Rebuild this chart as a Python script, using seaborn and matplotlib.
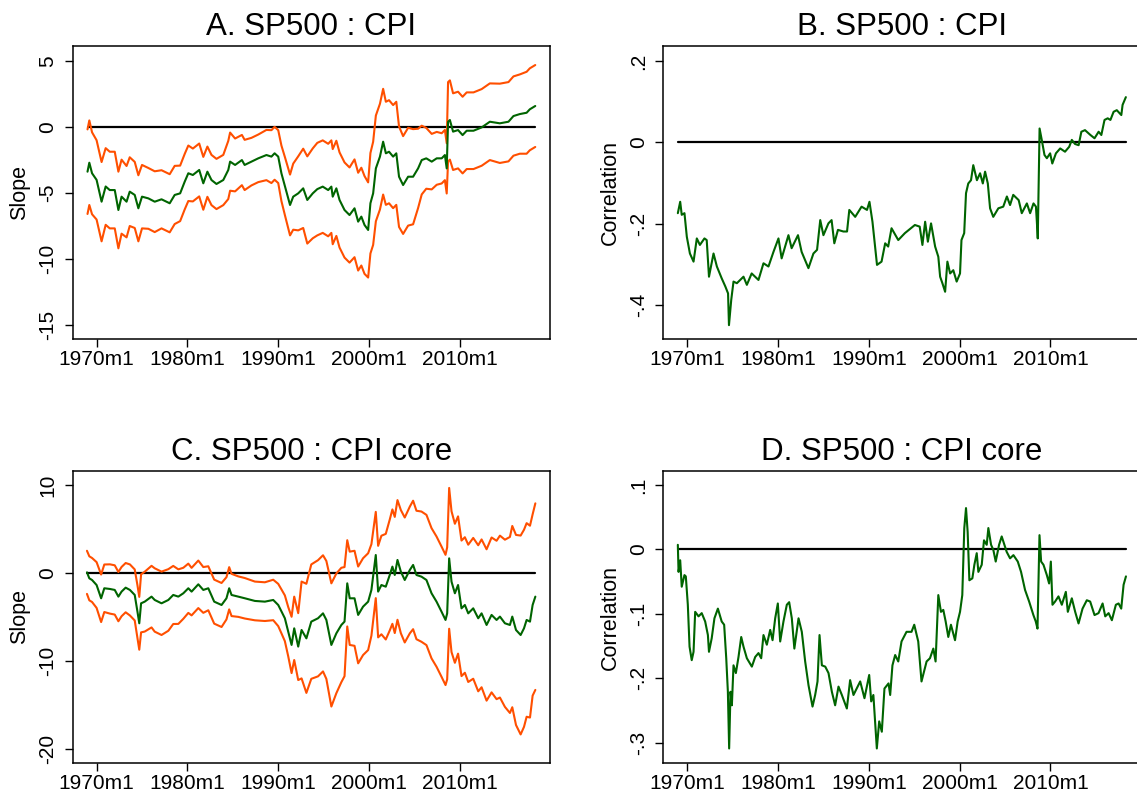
import matplotlib
matplotlib.use("Agg")
import matplotlib.pyplot as plt
import seaborn as sns
import numpy as np
import pandas as pd

# ---------------- data (decimal years) ----------------
A_dates = [1969.0, 1969.2, 1969.5, 1970.0, 1970.55, 1971.0, 1971.45, 1972.0, 1972.4, 1972.75,
           1973.3, 1973.65, 1974.2, 1974.6, 1975.0, 1975.7, 1976.4, 1977.15, 1978.05, 1978.6,
           1979.2, 1979.7, 1980.1, 1980.6, 1981.3, 1981.75, 1982.2, 1982.65, 1983.2, 1983.95,
           1984.5, 1984.7, 1985.25, 1986.0, 1986.3, 1987.05, 1987.8, 1988.7, 1989.25, 1989.6,
           1990.0, 1990.35, 1990.75, 1991.3, 1991.65, 1992.2, 1992.75, 1993.2, 1993.8, 1994.3,
           1994.9, 1995.5, 1995.85, 1996.0, 1996.4, 1996.75, 1997.3, 1997.85, 1998.4, 1998.8,
           1999.15, 1999.5, 1999.9, 2000.15, 2000.45, 2000.75, 2001.2, 2001.55, 2001.85, 2002.2,
           2002.65, 2003.0, 2003.3, 2003.75, 2004.3, 2004.85, 2005.4, 2005.8, 2006.3, 2006.9,
           2007.45, 2008.0, 2008.35, 2008.55, 2008.7, 2008.9, 2009.25, 2009.8, 2010.3, 2010.75,
           2011.5, 2012.4, 2013.3, 2014.4, 2015.35, 2015.9, 2016.6, 2017.35, 2017.7, 2018.3]
A_slope = [-3.38, -2.70, -3.50, -4.00, -5.65, -4.50, -4.77, -4.77, -6.28, -5.27,
           -5.65, -4.89, -5.14, -6.15, -5.27, -5.40, -5.65, -5.47, -5.77, -5.14,
           -5.02, -4.14, -3.50, -3.63, -3.25, -4.26, -3.38, -4.01, -4.31, -4.01,
           -3.25, -2.62, -2.87, -2.50, -2.87, -2.62, -2.37, -2.12, -2.24, -1.99,
           -2.24, -3.50, -4.51, -5.90, -5.27, -5.02, -4.64, -5.52, -5.02, -4.70,
           -4.51, -4.77, -4.51, -5.27, -4.64, -5.52, -6.28, -6.66, -6.15, -7.16,
           -6.78, -7.41, -7.79, -5.77, -5.02, -3.13, -2.24, -1.11, -1.99, -1.87,
           -2.24, -1.99, -3.76, -4.39, -3.76, -3.76, -3.13, -2.50, -2.37, -2.62,
           -2.37, -2.37, -2.12, -3.13, 0.40, 0.53, -0.35, -0.23, -0.61, -0.28,
           -0.28, -0.03, 0.40, 0.28, 0.40, 0.83, 0.98, 1.08, 1.34, 1.59]
A_halfwidth = [3.2, 3.2, 3.1, 3.0, 3.0, 2.9, 2.9, 2.9, 2.9, 2.8,
               2.7, 2.6, 2.5, 2.5, 2.4, 2.3, 2.3, 2.2, 2.2, 2.2,
               2.1, 2.1, 2.1, 2.0, 2.0, 2.0, 1.9, 1.9, 1.9, 1.9,
               2.2, 2.2, 2.0, 1.9, 1.9, 1.8, 1.8, 1.9, 2.0, 2.0,
               2.0, 2.1, 2.2, 2.3, 2.5, 2.8, 3.0, 3.3, 3.4, 3.5,
               3.5, 3.5, 3.5, 3.6, 3.6, 3.6, 3.6, 3.6, 3.7, 3.7,
               3.7, 3.7, 3.6, 3.8, 3.9, 4.0, 4.0, 4.0, 3.9, 3.9,
               3.9, 3.9, 3.8, 3.7, 3.7, 3.6, 3.0, 2.6, 2.3, 2.1,
               2.0, 1.9, 1.9, 1.9, 3.0, 3.0, 2.9, 2.9, 2.9, 2.9,
               2.9, 2.9, 2.9, 3.0, 3.0, 3.0, 3.0, 3.1, 3.1, 3.1]

B_dates = [1968.97, 1969.23, 1969.4, 1969.7, 1969.96, 1970.3, 1970.7, 1971.06, 1971.4, 1971.9,
           1972.15, 1972.4, 1972.9, 1973.27, 1973.8, 1974.2, 1974.5, 1974.6, 1974.85, 1975.1,
           1975.47, 1976.2, 1976.57, 1977.1, 1977.85, 1978.4, 1978.95, 1979.5, 1980.05, 1980.4,
           1981.15, 1981.5, 1982.2, 1982.6, 1983.35, 1983.9, 1984.3, 1984.65, 1985.0, 1985.55,
           1985.9, 1986.2, 1986.6, 1987.2, 1987.6, 1987.85, 1988.5, 1989.2, 1989.8, 1990.07,
           1990.4, 1990.9, 1991.4, 1991.8, 1992.13, 1992.5, 1993.24, 1993.97, 1995.07, 1995.6,
           1995.9, 1996.2, 1996.5, 1996.85, 1997.3, 1997.65, 1997.85, 1998.1, 1998.4, 1998.65,
           1998.95, 1999.3, 1999.67, 2000.04, 2000.2, 2000.5, 2000.7, 2000.95, 2001.25, 2001.5,
           2001.9, 2002.25, 2002.55, 2002.8, 2003.1, 2003.35, 2003.7, 2004.26, 2004.8, 2005.2,
           2005.55, 2005.9, 2006.5, 2006.84, 2007.4, 2007.76, 2008.13, 2008.4, 2008.5, 2008.6,
           2008.8, 2009.04, 2009.34, 2009.6, 2009.96, 2010.2, 2010.6, 2011.07, 2011.6, 2012.06,
           2012.35, 2012.7, 2013.1, 2013.4, 2013.8, 2014.4, 2014.85, 2015.3, 2015.6, 2015.95,
           2016.3, 2016.6, 2016.95, 2017.3, 2017.8, 2017.94, 2018.3]
B_corr = [-0.174, -0.146, -0.178, -0.174, -0.232, -0.273, -0.293, -0.236, -0.252, -0.236,
          -0.240, -0.330, -0.273, -0.305, -0.334, -0.354, -0.371, -0.449, -0.387, -0.342,
          -0.346, -0.330, -0.350, -0.322, -0.338, -0.297, -0.305, -0.269, -0.236, -0.285,
          -0.228, -0.260, -0.228, -0.269, -0.309, -0.273, -0.264, -0.191, -0.228, -0.199,
          -0.191, -0.248, -0.215, -0.219, -0.219, -0.166, -0.183, -0.158, -0.166, -0.146,
          -0.195, -0.301, -0.293, -0.248, -0.256, -0.211, -0.240, -0.223, -0.203, -0.207,
          -0.252, -0.195, -0.244, -0.199, -0.256, -0.281, -0.330, -0.346, -0.367, -0.293,
          -0.322, -0.314, -0.342, -0.322, -0.240, -0.223, -0.125, -0.101, -0.093, -0.056,
          -0.093, -0.076, -0.101, -0.072, -0.101, -0.162, -0.183, -0.162, -0.158, -0.133,
          -0.154, -0.129, -0.142, -0.174, -0.150, -0.174, -0.150, -0.158, -0.195, -0.236,
          0.034, 0.006, -0.031, -0.039, -0.027, -0.052, -0.027, -0.015, -0.023, -0.011,
          0.006, -0.004, -0.007, 0.026, 0.030, 0.018, 0.010, 0.026, 0.018, 0.055,
          0.059, 0.055, 0.075, 0.079, 0.067, 0.092, 0.111]

C_dates = [1968.94, 1969.2, 1969.5, 1970.0, 1970.5, 1970.85, 1971.47, 1972.0, 1972.4, 1972.75,
           1973.2, 1973.67, 1974.2, 1974.5, 1974.7, 1974.9, 1975.3, 1976.05, 1976.4, 1977.15,
           1977.9, 1978.44, 1979.0, 1979.55, 1980.1, 1980.46, 1981.2, 1981.75, 1982.3, 1982.95,
           1983.76, 1984.3, 1984.6, 1984.86, 1985.6, 1986.33, 1987.43, 1988.53, 1989.45, 1990.0,
           1990.37, 1990.73, 1991.1, 1991.47, 1991.76, 1992.2, 1992.57, 1993.1, 1993.64, 1994.38,
           1994.93, 1995.3, 1995.85, 1996.4, 1996.95, 1997.3, 1997.6, 1997.87, 1998.4, 1998.8,
           1999.34, 1999.9, 2000.26, 2000.74, 2001.0, 2001.36, 2001.84, 2002.28, 2002.57, 2002.83,
           2003.13, 2003.5, 2003.93, 2004.49, 2004.85, 2005.22, 2005.77, 2006.32, 2006.88, 2007.43,
           2007.98, 2008.42, 2008.6, 2008.82, 2009.08, 2009.45, 2009.8, 2010.18, 2010.55, 2010.92,
           2011.47, 2012.02, 2012.39, 2012.94, 2013.49, 2014.04, 2014.41, 2014.96, 2015.51, 2015.77,
           2016.18, 2016.69, 2017.06, 2017.35, 2017.72, 2018.01, 2018.31]
C_slope = [0.11, -0.57, -0.76, -1.33, -2.84, -1.70, -1.78, -1.89, -2.65, -2.08,
           -1.63, -1.89, -2.46, -4.36, -5.68, -3.41, -3.22, -2.65, -3.03, -3.41,
           -3.03, -2.46, -2.65, -2.27, -1.70, -2.08, -1.25, -1.89, -1.70, -3.22,
           -3.60, -2.84, -1.70, -2.46, -2.65, -2.84, -3.14, -3.22, -3.03, -3.60,
           -4.36, -5.11, -6.63, -8.14, -6.25, -8.33, -6.44, -7.39, -5.49, -5.11,
           -4.55, -5.30, -8.14, -6.82, -5.87, -5.49, -1.14, -2.84, -2.84, -4.73,
           -3.79, -3.22, -1.89, 2.08, -2.08, -1.33, -1.52, -0.19, 0.76, -0.19,
           1.52, 0.19, -0.76, 0.38, 0.95, -0.19, -0.38, -0.76, -2.27, -3.22,
           -4.36, -5.30, -4.55, 1.70, -0.95, -2.27, -1.33, -3.98, -3.60, -4.55,
           -3.98, -5.11, -4.55, -5.87, -4.73, -5.30, -4.92, -5.68, -5.87, -4.92,
           -6.44, -7.01, -6.25, -5.30, -5.49, -3.60, -2.65]
C_halfwidth = [2.45, 2.5, 2.5, 2.6, 2.7, 2.7, 2.8, 2.8, 2.8, 2.8,
               2.8, 2.9, 2.9, 3.0, 3.0, 3.3, 3.4, 3.5, 3.6, 3.6,
               3.5, 3.3, 3.1, 2.9, 2.8, 2.7, 2.7, 2.6, 2.5, 2.5,
               2.5, 2.4, 2.4, 2.4, 2.3, 2.3, 2.2, 2.2, 2.3, 2.4,
               2.5, 2.6, 2.8, 3.2, 3.6, 3.8, 5.5, 6.2, 6.5, 6.6,
               6.6, 6.7, 7.0, 6.8, 6.5, 6.2, 4.9, 5.3, 5.4, 5.5,
               5.5, 5.5, 5.2, 4.9, 5.2, 5.6, 6.0, 6.3, 6.5, 6.6,
               6.8, 7.0, 7.1, 7.2, 7.3, 7.3, 7.4, 7.4, 7.4, 7.4,
               7.4, 7.4, 7.5, 8.0, 8.0, 7.9, 7.8, 7.7, 7.7, 7.8,
               8.0, 8.3, 8.4, 8.6, 8.8, 9.0, 9.2, 9.5, 10.0, 10.3,
               10.8, 11.3, 11.2, 11.0, 10.9, 10.3, 10.6]

D_dates = [1968.97, 1969.05, 1969.23, 1969.4, 1969.7, 1969.85, 1970.07, 1970.26, 1970.5, 1970.7,
           1970.88, 1971.25, 1971.6, 1971.98, 1972.28, 1972.4, 1972.7, 1973.0, 1973.38, 1973.8,
           1974.07, 1974.3, 1974.48, 1974.62, 1974.77, 1974.92, 1975.1, 1975.36, 1975.65, 1975.95,
           1976.2, 1976.57, 1977.12, 1977.49, 1977.85, 1978.15, 1978.4, 1978.77, 1979.14, 1979.4,
           1979.69, 1979.98, 1980.24, 1980.6, 1980.97, 1981.23, 1981.52, 1981.8, 1982.26, 1982.62,
           1982.99, 1983.36, 1983.8, 1984.09, 1984.35, 1984.57, 1984.83, 1985.2, 1985.56, 1985.93,
           1986.29, 1986.66, 1987.03, 1987.58, 1987.94, 1988.31, 1989.05, 1989.52, 1990.04, 1990.26,
           1990.5, 1990.7, 1990.88, 1991.14, 1991.43, 1991.72, 1992.17, 1992.35, 1992.6, 1992.9,
           1993.24, 1993.6, 1994.15, 1994.7, 1995.0, 1995.44, 1995.8, 1996.36, 1996.73, 1997.1,
           1997.35, 1997.65, 1997.94, 1998.2, 1998.46, 1998.75, 1999.04, 1999.49, 1999.78, 2000.04,
           2000.29, 2000.51, 2000.7, 2000.88, 2001.07, 2001.4, 2001.62, 2001.88, 2002.06, 2002.43,
           2002.68, 2002.98, 2003.16, 2003.46, 2003.71, 2003.97, 2004.34, 2004.63, 2004.93, 2005.18,
           2005.55, 2005.92, 2006.4, 2006.76, 2007.2, 2007.65, 2008.12, 2008.38, 2008.57, 2008.79,
           2008.97, 2009.23, 2009.6, 2009.85, 2010.04, 2010.22, 2010.51, 2010.88, 2011.25, 2011.69,
           2011.91, 2012.35, 2012.72, 2013.09, 2013.53, 2014.0, 2014.37, 2014.85, 2015.29, 2015.74,
           2016.03, 2016.4, 2016.76, 2017.2, 2017.5, 2017.79, 2018.05, 2018.31]
D_corr = [0.007, -0.035, -0.017, -0.058, -0.040, -0.042, -0.086, -0.151, -0.172, -0.159,
          -0.097, -0.104, -0.099, -0.112, -0.133, -0.159, -0.138, -0.107, -0.092, -0.112,
          -0.117, -0.169, -0.221, -0.309, -0.221, -0.242, -0.180, -0.192, -0.167, -0.136,
          -0.151, -0.169, -0.182, -0.167, -0.161, -0.169, -0.133, -0.148, -0.125, -0.141,
          -0.107, -0.084, -0.143, -0.112, -0.086, -0.082, -0.107, -0.154, -0.107, -0.128,
          -0.174, -0.211, -0.244, -0.226, -0.205, -0.133, -0.180, -0.182, -0.192, -0.221,
          -0.242, -0.213, -0.226, -0.247, -0.203, -0.226, -0.205, -0.231, -0.195, -0.236,
          -0.226, -0.270, -0.309, -0.267, -0.283, -0.216, -0.208, -0.226, -0.180, -0.164,
          -0.174, -0.143, -0.128, -0.128, -0.117, -0.143, -0.205, -0.174, -0.169, -0.154,
          -0.174, -0.071, -0.097, -0.094, -0.112, -0.136, -0.117, -0.141, -0.112, -0.097,
          -0.071, 0.033, 0.064, 0.027, -0.048, -0.045, -0.024, -0.006, -0.035, -0.024,
          0.014, 0.007, 0.033, 0.007, -0.001, -0.019, 0.007, 0.020, 0.007, -0.004,
          -0.014, -0.009, -0.019, -0.035, -0.063, -0.081, -0.102, -0.112, -0.123, 0.022,
          -0.019, -0.024, -0.040, -0.053, -0.019, -0.086, -0.081, -0.073, -0.086, -0.066,
          -0.097, -0.076, -0.097, -0.115, -0.092, -0.079, -0.081, -0.102, -0.099, -0.084,
          -0.104, -0.099, -0.110, -0.086, -0.084, -0.092, -0.055, -0.042]

x_tick_years = [1970, 1980, 1990, 2000, 2010]
x_tick_labels = ["1970m1", "1980m1", "1990m1", "2000m1", "2010m1"]

titles = ["A. SP500 : CPI", "B. SP500 : CPI", "C. SP500 : CPI core", "D. SP500 : CPI core"]
ylabels = ["Slope", "Correlation", "Slope", "Correlation"]
yticks = [[5, 0, -5, -10, -15], [0.2, 0, -0.2, -0.4], [10, 0, -10, -20], [0.1, 0, -0.1, -0.2, -0.3]]
yticklabels = [["5", "0", "-5", "-10", "-15"], [".2", "0", "-.2", "-.4"],
               ["10", "0", "-10", "-20"], [".1", "0", "-.1", "-.2", "-.3"]]

# ---------------- style ----------------
sns.set_theme(style="white", rc={"xtick.bottom": True, "ytick.left": True,
                                 "text.color": "black", "axes.labelcolor": "black",
                                 "xtick.color": "black", "ytick.color": "black"})
plt.rcParams["font.family"] = ["Liberation Sans", "DejaVu Sans"]

ORANGE = "#FF4F00"
GREEN = "#006400"

W, H = 1137, 802
fig = plt.figure(figsize=(W / 100, H / 100), dpi=100)


def make_axes(l, r, t, b):
    return fig.add_axes([l / W, 1 - b / H, (r - l) / W, (b - t) / H])


axA = make_axes(72.7, 549.7, 46, 339)
axB = make_axes(663.3, 1140.3, 46, 339)
axC = make_axes(72.7, 549.7, 470.7, 763.3)
axD = make_axes(663.3, 1140.3, 470.7, 763.3)
axes = [axA, axB, axC, axD]
ylims = [(-16.04, 6.13), (-0.483, 0.2366), (-21.59, 11.66), (-0.332, 0.122)]


def zero_line(ax, dates):
    ax.plot([dates[0], dates[-1]], [0, 0], color="black", lw=1.6, zorder=1)


def band_panel(ax, dates, mid, hw):
    df = pd.DataFrame({"date": dates, "mid": mid, "hw": hw})
    df["upper"] = df["mid"] + df["hw"]
    df["lower"] = df["mid"] - df["hw"]
    zero_line(ax, dates)
    for col, c in (("upper", ORANGE), ("lower", ORANGE), ("mid", GREEN)):
        sns.lineplot(data=df, x="date", y=col, ax=ax, color=c, lw=1.5,
                     estimator=None, sort=False, zorder=2)


def corr_panel(ax, dates, vals):
    df = pd.DataFrame({"date": dates, "corr": vals})
    zero_line(ax, dates)
    sns.lineplot(data=df, x="date", y="corr", ax=ax, color=GREEN, lw=1.5,
                 estimator=None, sort=False, zorder=2)


band_panel(axA, A_dates, A_slope, A_halfwidth)
corr_panel(axB, B_dates, B_corr)
band_panel(axC, C_dates, C_slope, C_halfwidth)
corr_panel(axD, D_dates, D_corr)

for i, ax in enumerate(axes):
    ax.set_xlim(1967.37, 2019.89)
    ax.set_ylim(*ylims[i])
    ax.set_xticks(x_tick_years)
    ax.set_xticklabels(x_tick_labels, fontsize=15, color="black")
    ax.set_yticks(yticks[i])
    ax.set_yticklabels(yticklabels[i], fontsize=15, rotation=90, va="center", color="black")
    ax.set_xlabel("")
    ax.set_ylabel(ylabels[i], fontsize=15.5, labelpad=6, color="black")
    ax.set_title(titles[i], fontsize=22.5, pad=8, color="black")
    ax.tick_params(axis="both", which="major", direction="out", length=6, width=1.0,
                   color="black", labelcolor="black", bottom=True, left=True)
    ax.tick_params(axis="x", pad=2)
    ax.tick_params(axis="y", pad=5)
    for s in ax.spines.values():
        s.set_visible(True)
        s.set_color("black")
        s.set_linewidth(1.1)
    ax.grid(False)
    ax.set_facecolor("white")

fig.savefig("out.png", dpi=100, facecolor="white")
